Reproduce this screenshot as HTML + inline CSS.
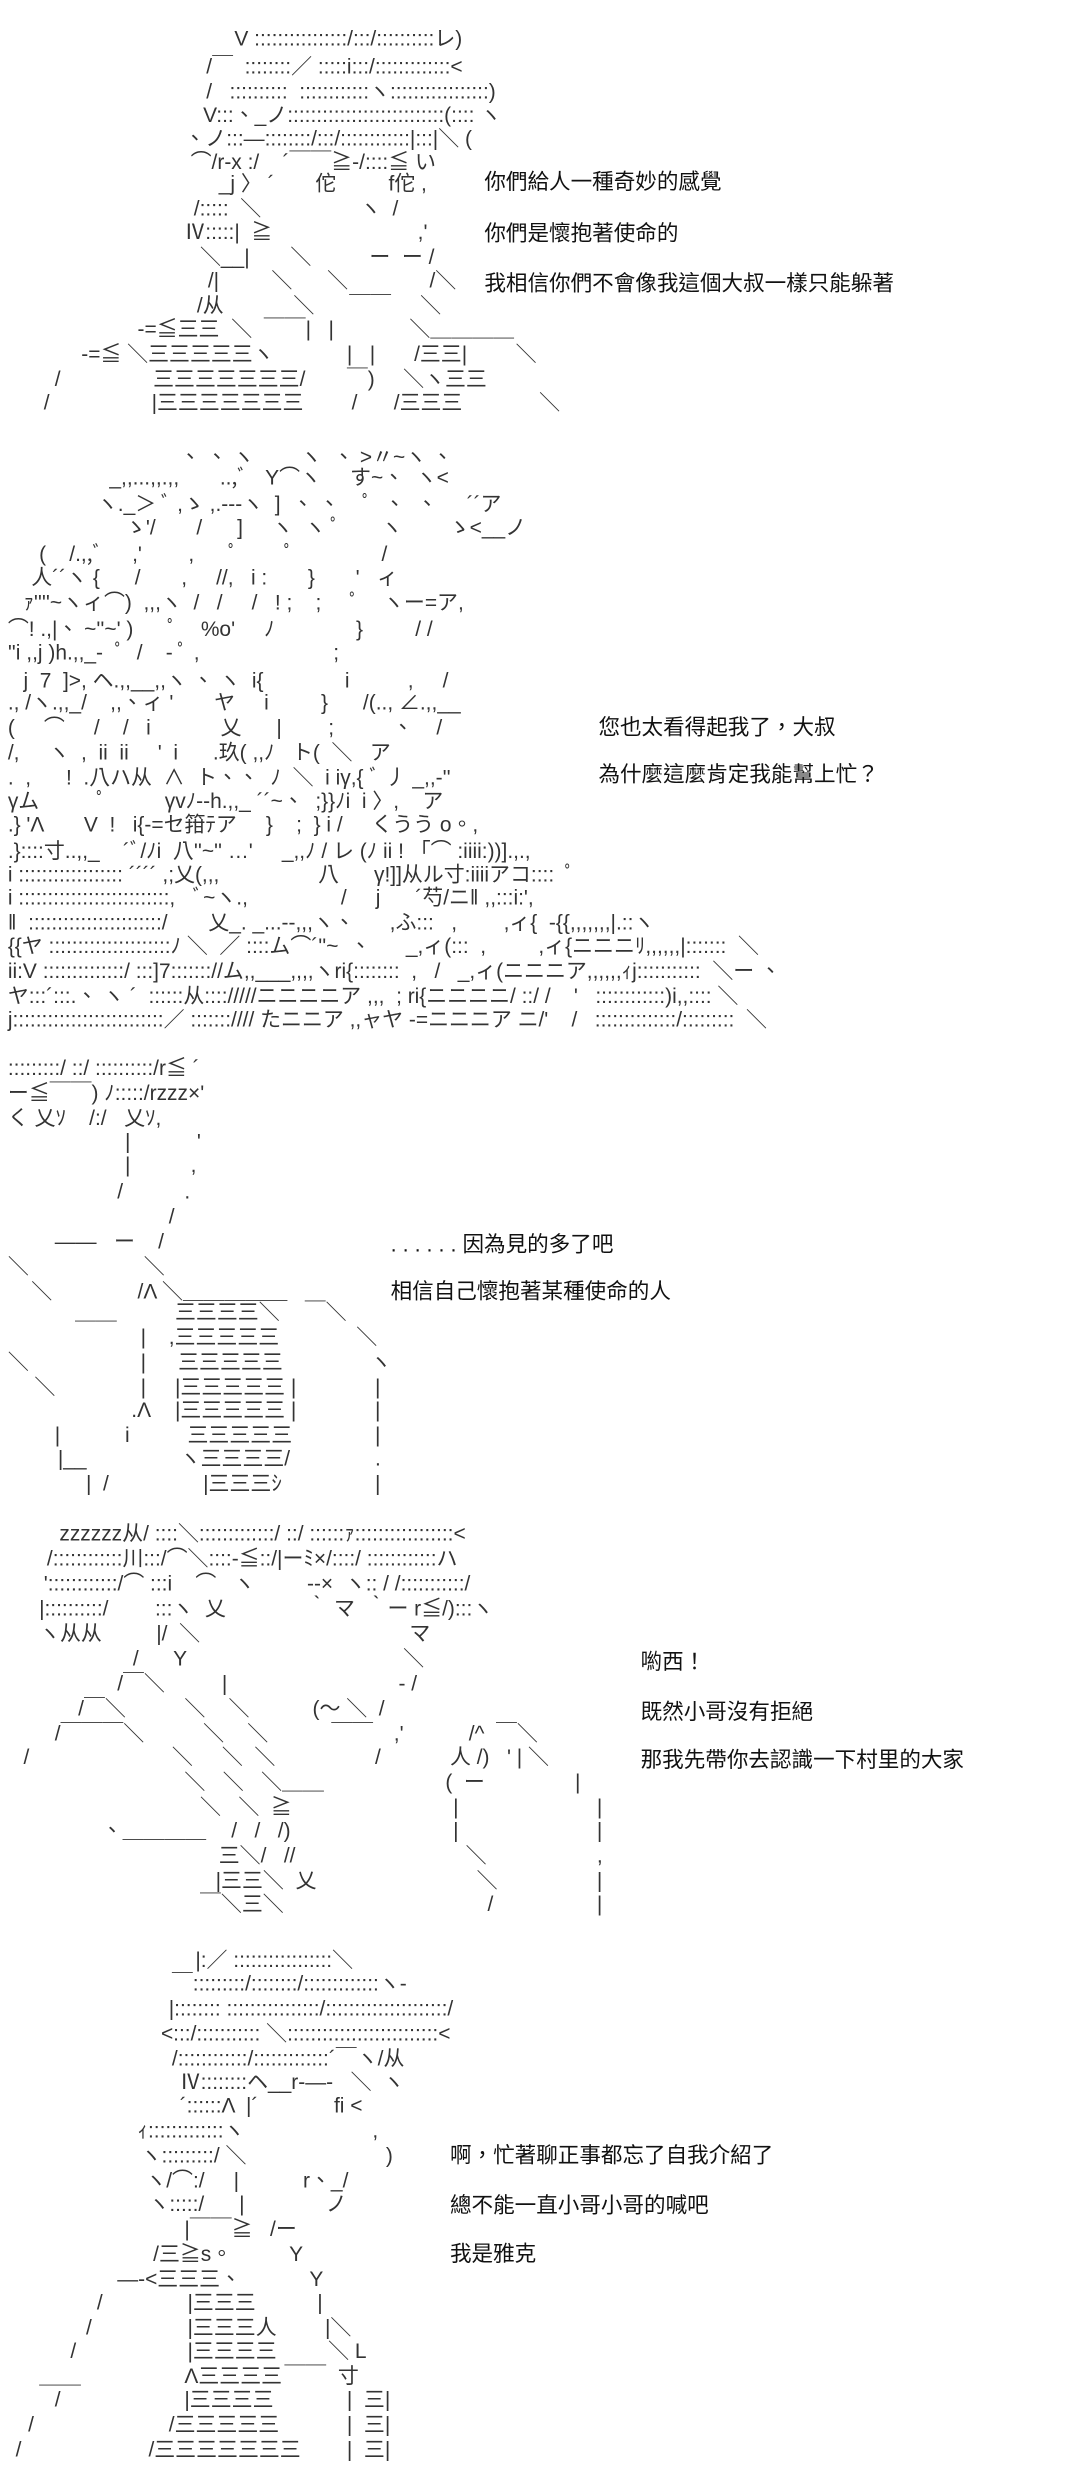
<!DOCTYPE html>
<html><head><meta charset="utf-8">
<style>
html,body{margin:0;padding:0;background:#fff;}
body{width:1080px;height:2466px;overflow:hidden;position:relative;}
#c{position:absolute;left:0;top:0;width:691px;height:1579px;transform:scale(1.5625);transform-origin:0 0;}
p{position:absolute;margin:0;white-space:pre;font-family:"Liberation Sans","Noto Sans CJK TC",sans-serif;font-size:13.4px;line-height:15.6px;color:#333;}
p.t{font-size:13.8px;color:#111;}
</style></head><body><div id="c">

<!-- Section 1 -->
<p style="top:17px;left:150px">V ::::::::::::::::/:::/::::::::::レ)</p>
<p style="top:35px;left:132px">/￣  ::::::::／ :::::i:::/:::::::::::::&lt;</p>
<p style="top:51px;left:132px">/   ::::::::::  ::::::::::::ヽ:::::::::::::::::)</p>
<p style="top:66px;left:130px">V:::、_ノ:::::::::::::::::::::::::::(:::: ヽ</p>
<p style="top:81px;left:118px">、ノ:::―::::::::/:::/::::::::::::|:::|＼ (</p>
<p style="top:96px;left:122px">⌒/r-x :/    ´￣￣≧-/::::≦ い</p>
<p style="top:110px;left:140px">_j 〉 ´       佗         f佗 ,</p>
<p style="top:126px;left:124px">/:::::  ＼                 ヽ  /</p>
<p style="top:141px;left:118px">Ⅳ:::::|  ≧                         ,'</p>
<p style="top:157px;left:128px">＼__|       ＼          ー  ー /</p>
<p style="top:172px;left:133px">/|         ＼      ＼              /＼</p>
<p style="top:188px;left:126px">/从            ＼      ￣￣     ＼</p>
<p style="top:203px;left:88px">-=≦三三</p><p style="top:203px;left:148px">＼  ￣￣|   |</p><p style="top:203px;left:262px">＼＿＿＿＿</p>
<p style="top:219px;left:52px">-=≦ ＼三三三三三ヽ</p><p style="top:219px;left:222px">|   |</p><p style="top:219px;left:265px">/三三|</p><p style="top:219px;left:330px">＼</p>
<p style="top:235px;left:35px">/</p><p style="top:235px;left:98px">三三三三三三三/</p><p style="top:235px;left:222px">￣)</p><p style="top:235px;left:258px">＼ヽ三三</p>
<p style="top:250px;left:28px">/</p><p style="top:250px;left:97px">|三三三三三三三</p><p style="top:250px;left:225px">/</p><p style="top:250px;left:252px">/三三三</p><p style="top:250px;left:345px">＼</p>

<p class="t" style="top:109px;left:310px">你們給人一種奇妙的感覺</p>
<p class="t" style="top:142px;left:310px">你們是懷抱著使命的</p>
<p class="t" style="top:174px;left:310px">我相信你們不會像我這個大叔一樣只能躲著</p>

<!-- Section 2 -->
<p style="top:285px;left:115px">、 、 ヽ        ヽ  、 &gt;〃~ヽ 、</p>
<p style="top:298px;left:70px">_,,...,,.,,       ..,ﾞ   Y⌒ヽ     す~、  ヽ&lt;</p>
<p style="top:315px;left:62px">ヽ._＞ ﾞ ,ゝ ,.-‐‐ヽ  ]  、 、    ﾟ  、  、     ´´ア</p>
<p style="top:330px;left:80px">ゝ'/       /      ]     ヽ  ヽ ﾟ       ヽ        ゝ&lt;__ノ</p>
<p style="top:347px;left:25px">(    /.,,ﾞ     ,'        ,      ﾟ        ﾟ               /</p>
<p style="top:362px;left:20px">人´´ヽ {      /       ,     //,   i :       }       '   ィ</p>
<p style="top:378px;left:15px">ｧ''''~ヽィ⌒)  ,,,ヽ  /   /     /   ! ;    ;     ﾟ    ヽー=ア,</p>
<p style="top:395px;left:5px">⌒! .,|、 ~''~' )      ﾟ    %o'     ﾉ              }         / /</p>
<p style="top:410px;left:5px">''i ,,j )h.,,_-  ﾟ  /    - ﾟ ,                       ;</p>
<p style="top:428px;left:15px">j  7  ]&gt;, ヘ.,,__,,ヽ 、 ヽ  i{              i          ,     /</p>
<p style="top:442px;left:5px">., /ヽ.,,_/    ,,、ィ '       ヤ     i         }      /(.., ∠.,,__</p>
<p style="top:458px;left:5px">(     ⌒     /    /   i            乂      |        ;          、    /</p>
<p style="top:474px;left:5px">/,     ヽ  ,  ii  ii     '  i      .玖( ,,ﾉ   ト(  ＼   ア</p>
<p style="top:490px;left:5px">.  ,      !  .八ハ从  ∧  ト、、  ﾉ  ＼  i iγ,{ ﾞ 丿 _,,-''</p>
<p style="top:505px;left:5px">γム          ﾟ          γvﾉ‐-h.,,_ ´´~、  ;}}ﾉi  i 〉,    ア</p>
<p style="top:520px;left:5px">.} 'Λ       V  !   i{‐=セ箝ﾃア     }    ;  } i /     くうう o。,</p>
<p style="top:537px;left:5px">.}::::寸..,,_    ´ﾞ/ﾉi  八''~'' …'     _,,ﾉ / レ (ﾉ ii ! 「⌒ :iiii:))].,.,</p>
<p style="top:552px;left:5px">i :::::::::::::::::: ´´´´ ,;乂(,,,                 八      γ!]]从ル寸:iiiiアコ::::  ﾟ</p>
<p style="top:567px;left:5px">i ::::::::::::::::::::::::::,   ﾞ~ヽ.,                /     j      ´芍/ニ‖ ,,:::i:',</p>
<p style="top:583px;left:5px">‖  :::::::::::::::::::::::/       乂_. _...--,,,ヽ、      ,ふ:::   ,        ,ィ{  ‐{{,,,,,,,|.::ヽ</p>
<p style="top:598px;left:5px">{{ヤ :::::::::::::::::::::ﾉ ＼  ／ ::::ム⌒´''~  、      _,ィ(:::  ,         ,ィ{ニニニﾘ,,,,,,|:::::::  ＼</p>
<p style="top:614px;left:5px">ii:V ::::::::::::::/ :::]7::::::://ム,,___,,,,ヽri{::::::::  ,   /   _,ィ(ニニニア,,,,,,ｨj:::::::::::  ＼ー 、</p>
<p style="top:630px;left:5px">ヤ:::´:::.、 ヽ ´  ::::::从:::://///ニニニニア ,,,  ; ri{ニニニニ/ ::/ /    '   ::::::::::::)i,,:::: ＼</p>
<p style="top:645px;left:5px">j::::::::::::::::::::::::::／ ::::::://// たニニア ,,ャヤ -=ニニニア ニ/'    /   ::::::::::::::/:::::::::  ＼</p>

<p class="t" style="top:458px;left:383px">您也太看得起我了，大叔</p>
<p class="t" style="top:488px;left:383px">為什麼這麼肯定我能幫上忙？</p>

<!-- Section 3 -->
<p style="top:676px;left:5px">:::::::::/ ::/ ::::::::::/r≦ ´</p>
<p style="top:692px;left:5px">ー≦￣￣) ﾉ:::::/rzzz×'</p>
<p style="top:708px;left:5px">く 乂ｿ    /:/   乂ｿ,</p>
<p style="top:723px;left:80px">|</p><p style="top:723px;left:126px">'</p>
<p style="top:738px;left:80px">|</p><p style="top:738px;left:122px">,</p>
<p style="top:755px;left:75px">/</p><p style="top:755px;left:118px">.</p>
<p style="top:771px;left:108px">/</p>
<p style="top:787px;left:35px">――   ー    /</p>
<p style="top:803px;left:5px">＼</p><p style="top:803px;left:92px">＼</p>
<p style="top:819px;left:20px">＼</p><p style="top:819px;left:88px">/Λ ＼＿＿＿＿＿</p>
<p style="top:832px;left:48px">＿＿</p><p style="top:832px;left:112px">三三三三＼</p><p style="top:832px;left:195px">￣＼</p>
<p style="top:848px;left:90px">|</p><p style="top:848px;left:108px">,三三三三三</p><p style="top:848px;left:228px">＼</p>
<p style="top:864px;left:5px">＼</p><p style="top:864px;left:90px">|</p><p style="top:864px;left:114px">三三三三三</p><p style="top:864px;left:237px">ヽ</p>
<p style="top:880px;left:22px">＼</p><p style="top:880px;left:90px">|</p><p style="top:880px;left:112px">|三三三三三 |</p><p style="top:880px;left:240px">|</p>
<p style="top:895px;left:84px">.Λ</p><p style="top:895px;left:112px">|三三三三三 |</p><p style="top:895px;left:240px">|</p>
<p style="top:911px;left:35px">|</p><p style="top:911px;left:80px">i</p><p style="top:911px;left:120px">三三三三三</p><p style="top:911px;left:240px">|</p>
<p style="top:926px;left:37px">|__</p><p style="top:926px;left:115px">ヽ三三三三/</p><p style="top:926px;left:240px">.</p>
<p style="top:942px;left:55px">|  /</p><p style="top:942px;left:130px">|三三三ｼ</p><p style="top:942px;left:240px">|</p>

<p class="t" style="top:789px;left:250px">. . . . . . 因為見的多了吧</p>
<p class="t" style="top:819px;left:250px">相信自己懷抱著某種使命的人</p>

<!-- Section 4 -->
<p style="top:974px;left:38px">zzzzzz从/ ::::＼:::::::::::::/ ::/ ::::::ｧ:::::::::::::::::&lt;</p>
<p style="top:990px;left:30px">/::::::::::::川:::/⌒＼::::-≦::/|ーﾐ×/::::/ ::::::::::::ハ</p>
<p style="top:1006px;left:28px">'::::::::::::/⌒ :::i    ⌒   ヽ         --×  ヽ:: / /:::::::::::/</p>
<p style="top:1022px;left:25px">|::::::::::/        :::ヽ  乂              ｀ マ  ｀ー r≦/):::ヽ</p>
<p style="top:1038px;left:25px">ヽ从从</p><p style="top:1038px;left:100px">|/  ＼</p><p style="top:1038px;left:262px">マ</p>
<p style="top:1054px;left:85px">/      Y</p><p style="top:1054px;left:258px">＼</p>
<p style="top:1070px;left:75px">/￣＼</p><p style="top:1070px;left:142px">|</p><p style="top:1070px;left:255px">- /</p>
<p style="top:1086px;left:50px">/￣＼</p><p style="top:1086px;left:118px">＼    ＼</p><p style="top:1086px;left:200px">(～ ＼  /</p>
<p style="top:1102px;left:35px">/￣￣￣＼</p><p style="top:1102px;left:130px">＼    ＼</p><p style="top:1102px;left:212px">￣￣</p><p style="top:1102px;left:252px">,'</p><p style="top:1102px;left:300px">/^  ￣＼</p>
<p style="top:1117px;left:15px">/</p><p style="top:1117px;left:110px">＼     ＼  ＼</p><p style="top:1117px;left:240px">/</p><p style="top:1117px;left:288px">人 /)   ' | ＼</p>
<p style="top:1133px;left:118px">＼   ＼   ＼＿＿</p><p style="top:1133px;left:285px">(  ー</p><p style="top:1133px;left:368px">|</p>
<p style="top:1149px;left:128px">＼   ＼  ≧</p><p style="top:1149px;left:290px">|</p><p style="top:1149px;left:382px">|</p>
<p style="top:1164px;left:65px">、＿＿＿＿</p><p style="top:1164px;left:148px">/   /   /)</p><p style="top:1164px;left:290px">|</p><p style="top:1164px;left:382px">|</p>
<p style="top:1180px;left:140px">三＼/   //</p><p style="top:1180px;left:298px">＼</p><p style="top:1180px;left:382px">,</p>
<p style="top:1196px;left:138px">|三三＼  乂</p><p style="top:1196px;left:305px">＼</p><p style="top:1196px;left:382px">|</p>
<p style="top:1211px;left:128px">￣＼三＼</p><p style="top:1211px;left:312px">/</p><p style="top:1211px;left:382px">|</p>

<p class="t" style="top:1056px;left:410px">喲西！</p>
<p class="t" style="top:1088px;left:410px">既然小哥沒有拒絕</p>
<p class="t" style="top:1119px;left:410px">那我先帶你去認識一下村里的大家</p>

<!-- Section 5 -->
<p style="top:1247px;left:125px">|:／ :::::::::::::::::＼</p>
<p style="top:1262px;left:110px">￣:::::::::/::::::::/:::::::::::::ヽ-</p>
<p style="top:1278px;left:108px">|:::::::: ::::::::::::::::/:::::::::::::::::::::/</p>
<p style="top:1294px;left:103px">&lt;:::/::::::::::: ＼::::::::::::::::::::::::::&lt;</p>
<p style="top:1310px;left:110px">/::::::::::::/:::::::::::::´￣ヽ/从</p>
<p style="top:1325px;left:115px">Ⅳ::::::::ヘ__r-―‐   ＼  ヽ</p>
<p style="top:1340px;left:115px">´::::::Λ  |´             fi &lt;</p>
<p style="top:1356px;left:88px">ｨ:::::::::::::ヽ                      ,</p>
<p style="top:1372px;left:90px">ヽ:::::::::/ ＼                        )</p>
<p style="top:1388px;left:93px">ヽ/⌒:/     |           r、_/</p>
<p style="top:1403px;left:95px">ヽ:::::/      |              ノ</p>
<p style="top:1419px;left:118px">|￣￣≧   /ー</p>
<p style="top:1435px;left:98px">/三≧s。</p><p style="top:1435px;left:185px">Y</p>
<p style="top:1451px;left:75px">―‐&lt;三三三、</p><p style="top:1451px;left:198px">Y</p>
<p style="top:1466px;left:62px">/</p><p style="top:1466px;left:120px">|三三三</p><p style="top:1466px;left:203px">|</p>
<p style="top:1482px;left:55px">/</p><p style="top:1482px;left:120px">|三三三人</p><p style="top:1482px;left:208px">|＼</p>
<p style="top:1497px;left:45px">/</p><p style="top:1497px;left:120px">|三三三三</p><p style="top:1497px;left:210px">＼ L</p>
<p style="top:1513px;left:25px">＿＿</p><p style="top:1513px;left:118px">Λ三三三三</p><p style="top:1513px;left:182px">￣￣  寸</p>
<p style="top:1528px;left:35px">/</p><p style="top:1528px;left:118px">|三三三三</p><p style="top:1528px;left:222px">|  三|</p>
<p style="top:1544px;left:18px">/</p><p style="top:1544px;left:108px">/三三三三三</p><p style="top:1544px;left:222px">|  三|</p>
<p style="top:1560px;left:10px">/</p><p style="top:1560px;left:95px">/三三三三三三三</p><p style="top:1560px;left:222px">|  三|</p>

<p class="t" style="top:1372px;left:288px">啊，忙著聊正事都忘了自我介紹了</p>
<p class="t" style="top:1404px;left:288px">總不能一直小哥小哥的喊吧</p>
<p class="t" style="top:1435px;left:288px">我是雅克</p>

</div></body></html>
